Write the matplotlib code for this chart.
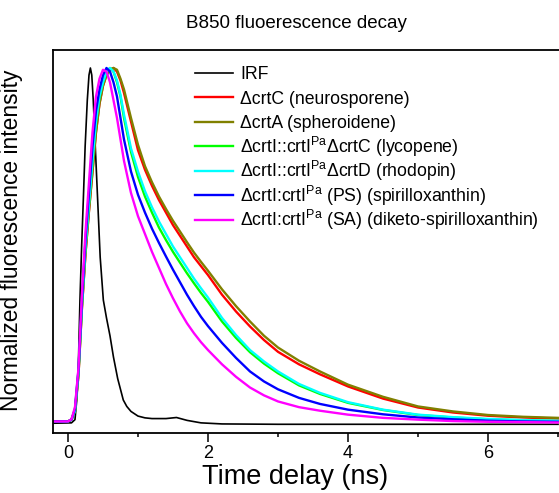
import matplotlib
matplotlib.use("Agg")
import matplotlib.pyplot as plt
from matplotlib.lines import Line2D
from matplotlib.ticker import MultipleLocator

plt.rcParams['font.family'] = ['Liberation Sans', 'DejaVu Sans']
plt.rcParams['mathtext.fontset'] = 'custom'
plt.rcParams['mathtext.rm'] = 'Liberation Sans'
plt.rcParams['mathtext.it'] = 'Liberation Sans:italic'

# ---- data ----
irf_t = [-0.2, 0.05, 0.1, 0.13, 0.15, 0.171, 0.195, 0.219, 0.245, 0.276, 0.3, 0.32, 0.34, 0.361,
         0.39, 0.424, 0.46, 0.505, 0.55, 0.6, 0.65, 0.71, 0.79, 0.84, 0.9, 1.0, 1.1, 1.2, 1.4,
         1.55, 1.7, 1.9, 2.2, 3.0, 7.0]
irf_v = [0.005, 0.006, 0.015, 0.08, 0.18, 0.35, 0.5, 0.63, 0.78, 0.91, 0.98, 1.0, 0.98, 0.91,
         0.78, 0.63, 0.47, 0.35, 0.3, 0.25, 0.19, 0.13, 0.07, 0.052, 0.038, 0.025, 0.02, 0.018, 0.018,
         0.021, 0.013, 0.006, 0.003, 0.002, 0.002]

t = [-0.2, 0.0, 0.05, 0.1, 0.15, 0.2, 0.25, 0.3, 0.35, 0.4, 0.45, 0.5, 0.55, 0.6, 0.65, 0.7, 0.75,
     0.8, 0.9, 1.0, 1.1, 1.2, 1.3, 1.4, 1.5, 1.6, 1.7, 1.8, 1.9, 2.0,
     2.2, 2.4, 2.6, 2.8, 3.0, 3.3, 3.6, 4.0, 4.5, 5.0, 5.5, 6.0, 6.5, 7.0]

neurosporene = [0.01, 0.01, 0.015, 0.04, 0.14, 0.33, 0.48, 0.6, 0.71, 0.82, 0.9, 0.95, 0.98, 0.995, 1.0, 0.99, 0.965,
                0.93, 0.85, 0.77, 0.715, 0.67, 0.63, 0.595, 0.56, 0.53, 0.50, 0.47, 0.445, 0.42,
                0.365, 0.318, 0.276, 0.238, 0.205, 0.17, 0.142, 0.108, 0.074, 0.049, 0.035, 0.026, 0.021, 0.018]
spheroidene = [0.01, 0.01, 0.015, 0.04, 0.14, 0.33, 0.48, 0.6, 0.71, 0.82, 0.9, 0.95, 0.98, 0.995, 1.0, 0.995, 0.97,
               0.94, 0.86, 0.785, 0.725, 0.68, 0.64, 0.605, 0.572, 0.542, 0.512, 0.483, 0.457, 0.432,
               0.38, 0.333, 0.29, 0.25, 0.217, 0.18, 0.15, 0.113, 0.079, 0.052, 0.038, 0.028, 0.023, 0.02]
lycopene = [0.01, 0.01, 0.015, 0.04, 0.15, 0.34, 0.5, 0.62, 0.74, 0.85, 0.92, 0.96, 0.99, 1.0, 0.99, 0.96, 0.92,
            0.86, 0.765, 0.695, 0.64, 0.595, 0.553, 0.518, 0.485, 0.455, 0.425, 0.397, 0.37, 0.345,
            0.29, 0.244, 0.204, 0.172, 0.145, 0.111, 0.087, 0.062, 0.042, 0.028, 0.021, 0.016, 0.013, 0.011]
rhodopin = [0.01, 0.01, 0.015, 0.04, 0.15, 0.34, 0.5, 0.62, 0.74, 0.85, 0.92, 0.96, 0.99, 1.0, 0.99, 0.965, 0.925,
            0.87, 0.775, 0.71, 0.655, 0.61, 0.57, 0.535, 0.50, 0.47, 0.44, 0.41, 0.383, 0.357,
            0.3, 0.252, 0.21, 0.178, 0.15, 0.115, 0.09, 0.064, 0.043, 0.029, 0.022, 0.017, 0.014, 0.012]
spirilloxanthin = [0.01, 0.01, 0.015, 0.045, 0.155, 0.35, 0.52, 0.65, 0.78, 0.88, 0.94, 0.98, 1.0, 0.99, 0.96, 0.92, 0.86,
                   0.80, 0.71, 0.645, 0.595, 0.55, 0.51, 0.472, 0.435, 0.40, 0.365, 0.333, 0.303, 0.277,
                   0.23, 0.188, 0.15, 0.122, 0.1, 0.076, 0.059, 0.043, 0.03, 0.021, 0.016, 0.012, 0.01, 0.009]
diketo_spirilloxanthin = [0.01, 0.01, 0.016, 0.05, 0.16, 0.37, 0.54, 0.68, 0.82, 0.92, 0.97, 0.995, 0.99, 0.96, 0.91, 0.86, 0.80,
                          0.74, 0.65, 0.585, 0.535, 0.485, 0.44, 0.395, 0.355, 0.318, 0.285, 0.257, 0.232, 0.21,
                          0.17, 0.135, 0.105, 0.083, 0.066, 0.05, 0.04, 0.029, 0.02, 0.015, 0.011, 0.009, 0.008, 0.007]

labels = ['IRF',
          '\u0394crtC (neurosporene)',
          '\u0394crtA (spheroidene)',
          '\u0394crtI::crtI$^{\\mathrm{Pa}}$\u0394crtC (lycopene)',
          '\u0394crtI::crtI$^{\\mathrm{Pa}}$\u0394crtD (rhodopin)',
          '\u0394crtI:crtI$^{\\mathrm{Pa}}$ (PS) (spirilloxanthin)',
          '\u0394crtI:crtI$^{\\mathrm{Pa}}$ (SA) (diketo-spirilloxanthin)']
colors = ['black', '#ff0000', '#808000', '#00ff00', '#00ffff', '#0000ff', '#ff00ff']
series = [neurosporene, spheroidene, lycopene, rhodopin, spirilloxanthin, diketo_spirilloxanthin]

W, H = 559, 493
fig = plt.figure(figsize=(W/100, H/100), dpi=100)
ax = fig.add_axes([53/W, 1-433/H, 1-53/W, (433-50)/H])

ax.plot(irf_t, irf_v, color=colors[0], lw=1.2, label=labels[0])
for vals, c, lab in zip(series, colors[1:], labels[1:]):
    ax.plot(t, vals, color=c, lw=1.7, label=lab, solid_joinstyle='round')

ax.set_xlim(-0.214, 7.014)
ax.set_ylim(-0.0224, 1.0504)
ax.spines['right'].set_visible(False)
for s in ['left', 'bottom', 'top']:
    ax.spines[s].set_linewidth(1.3)
ax.xaxis.set_major_locator(MultipleLocator(2))
ax.xaxis.set_minor_locator(MultipleLocator(1))
ax.tick_params(axis='x', which='major', direction='out', length=6.5, width=1.1, labelsize=13, pad=2)
ax.tick_params(axis='x', which='minor', direction='out', length=3, width=1.1)
ax.set_yticks([])

ax.set_xlabel('Time delay (ns)', fontsize=19.5)
ax.xaxis.set_label_coords((295-53)/506, -(477-433)/383)
ax.xaxis.label.set_va('center')
ax.set_ylabel('Normalized fluorescence intensity', fontsize=16.4)
ax.yaxis.set_label_coords((23-53)/506, (433-240)/383)
fig.text(296/W, 1-23/H, 'B850 fluoerescence decay', ha='center', va='center', fontsize=13.5)

# legend drawn row by row at the reference spacing
for i, (c, lab) in enumerate(zip(colors, labels)):
    yc = 72.7 + i*24.55
    lw = 1.2 if i == 0 else 1.7
    fig.add_artist(Line2D([195/W, 233/W], [1-yc/H, 1-yc/H], color=c, lw=lw,
                          transform=fig.transFigure))
    fig.text(240/W, 1-(yc+6.3)/H, lab, ha='left', va='baseline', fontsize=12.7)

fig.savefig('out.png', dpi=100)
